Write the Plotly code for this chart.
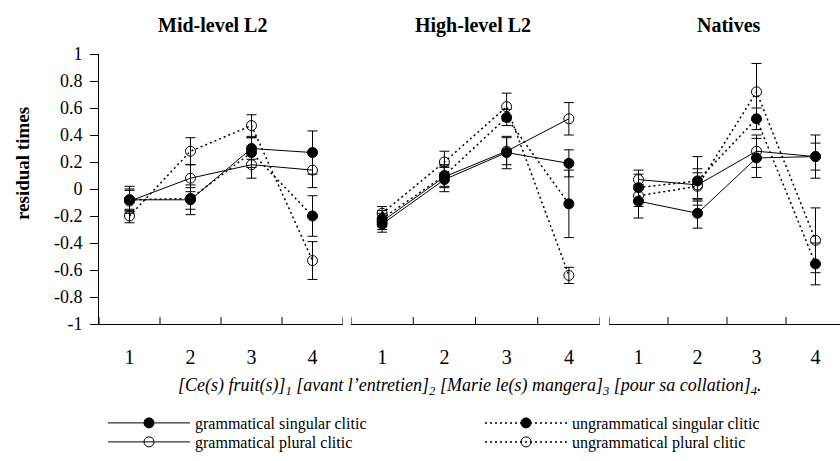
import plotly.graph_objects as go

# ---------------- data ----------------
POSITIONS = [1, 2, 3, 4]
POSITION_LABELS = ["1", "2", "3", "4"]
PANELS = ["Mid-level L2", "High-level L2", "Natives"]
SERIES = ["grammatical singular clitic", "ungrammatical singular clitic",
          "grammatical plural clitic", "ungrammatical plural clitic"]

Y_TICKS = [1, 0.8, 0.6, 0.4, 0.2, 0, -0.2, -0.4, -0.6, -0.8, -1]
Y_LABELS = ["1", "0.8", "0.6", "0.4", "0.2", "0", "-0.2", "-0.4", "-0.6", "-0.8", "-1"]

# Mid-level L2
mid_gram_sg = [-0.08, -0.08, 0.30, 0.27]
mid_gram_sg_err = [0.10, 0.11, 0.08, 0.16]
mid_ungram_sg = [-0.08, -0.07, 0.27, -0.20]
mid_ungram_sg_err = [0.08, 0.08, 0.11, 0.15]
mid_gram_pl = [-0.09, 0.08, 0.18, 0.14]
mid_gram_pl_err = [0.08, 0.10, 0.10, 0.13]
mid_ungram_pl = [-0.20, 0.28, 0.47, -0.53]
mid_ungram_pl_err = [0.05, 0.10, 0.08, 0.14]

# High-level L2
high_gram_sg = [-0.26, 0.07, 0.27, 0.19]
high_gram_sg_err = [0.06, 0.09, 0.12, 0.10]
high_ungram_sg = [-0.22, 0.10, 0.53, -0.11]
high_ungram_sg_err = [0.06, 0.08, 0.06, 0.25]
high_gram_pl = [-0.24, 0.09, 0.28, 0.52]
high_gram_pl_err = [0.06, 0.08, 0.10, 0.12]
high_ungram_pl = [-0.18, 0.20, 0.61, -0.64]
high_ungram_pl_err = [0.05, 0.08, 0.10, 0.06]

# Natives
nat_gram_sg = [-0.09, -0.18, 0.23, 0.24]
nat_gram_sg_err = [0.125, 0.11, 0.145, 0.16]
nat_ungram_sg = [0.01, 0.06, 0.52, -0.555]
nat_ungram_sg_err = [0.10, 0.18, 0.08, 0.155]
nat_gram_pl = [0.07, 0.03, 0.28, 0.24]
nat_gram_pl_err = [0.07, 0.12, 0.12, 0.10]
nat_ungram_pl = [-0.05, 0.02, 0.72, -0.38]
nat_ungram_pl_err = [0.08, 0.10, 0.21, 0.24]

PANEL_DATA = [
    [(mid_gram_sg, mid_gram_sg_err), (mid_ungram_sg, mid_ungram_sg_err),
     (mid_gram_pl, mid_gram_pl_err), (mid_ungram_pl, mid_ungram_pl_err)],
    [(high_gram_sg, high_gram_sg_err), (high_ungram_sg, high_ungram_sg_err),
     (high_gram_pl, high_gram_pl_err), (high_ungram_pl, high_ungram_pl_err)],
    [(nat_gram_sg, nat_gram_sg_err), (nat_ungram_sg, nat_ungram_sg_err),
     (nat_gram_pl, nat_gram_pl_err), (nat_ungram_pl, nat_ungram_pl_err)],
]

SUBTITLE = ("<i>[Ce(s) fruit(s)]<sub>1</sub> [avant l’entretien]<sub>2</sub> "
            "[Marie le(s) mangera]<sub>3</sub> [pour sa collation]<sub>4</sub>.</i>")

# ---------------- style ----------------
W, H = 840, 461
FONT = "Times New Roman"
SERIES_STYLE = [
    dict(symbol="circle", dash="solid", lw=1.0),
    dict(symbol="circle", dash="2px,3px", lw=1.5),
    dict(symbol="circle-open", dash="solid", lw=1.0),
    dict(symbol="circle-open", dash="2px,3px", lw=1.5),
]
LEGEND_IDS = ["legend", "legend2", "legend3", "legend4"]
LEGEND_POS = [(103, 423), (480, 423), (103, 442), (480, 442)]

def px_x(p):
    return p / W

def px_y(p):
    return 1 - p / H

x_domains = [(99, 343), (351, 600), (609, 840)]
x_ranges = [[0.5, 4.5], [0.5, 4.5], [0.5, 0.5 + (840 - 609) / 59.0]]
y_domain = [px_y(324), px_y(54)]

fig = go.Figure()

for pi, panel in enumerate(PANEL_DATA):
    xa = "x" if pi == 0 else f"x{pi + 1}"
    for si, (vals, errs) in enumerate(panel):
        st = SERIES_STYLE[si]
        fig.add_trace(go.Scatter(
            x=POSITIONS, y=vals, xaxis=xa, yaxis="y",
            mode="lines+markers", name=SERIES[si],
            legend=LEGEND_IDS[si], showlegend=(pi == 0),
            line=dict(color="black", width=st["lw"], dash=st["dash"]),
            marker=dict(symbol=st["symbol"], size=10, color="black",
                        line=dict(color="black", width=1)),
            error_y=dict(type="data", array=errs, visible=True,
                         color="black", thickness=1, width=5),
        ))

layout_axes = {}
for pi in range(3):
    key = "xaxis" if pi == 0 else f"xaxis{pi + 1}"
    layout_axes[key] = dict(
        domain=[px_x(x_domains[pi][0]), px_x(x_domains[pi][1])],
        range=x_ranges[pi], anchor="y", automargin=False,
        tickmode="array", tickvals=POSITIONS, ticktext=POSITION_LABELS,
        ticks="", showline=True, linecolor="black", linewidth=1,
        showgrid=False, zeroline=False,
        tickfont=dict(family=FONT, size=20, color="black"),
        ticklabelstandoff=15,
    )

fig.update_layout(
    **layout_axes,
    yaxis=dict(
        domain=y_domain, range=[-1, 1], anchor="x", automargin=False,
        tickmode="array", tickvals=Y_TICKS, ticktext=Y_LABELS,
        ticks="outside", ticklen=8, tickcolor="black",
        showline=True, linecolor="black", linewidth=1,
        showgrid=False, zeroline=False,
        tickfont=dict(family=FONT, size=18, color="black"),
        ticklabelstandoff=4,
    ),
)

# crossing tick marks at category boundaries
shapes = []
for pi in range(3):
    xa = "x" if pi == 0 else f"x{pi + 1}"
    lo, hi = x_ranges[pi]
    for b in [p - 0.5 for p in POSITIONS] + [POSITIONS[-1] + 0.5]:
        if lo - 1e-9 <= b <= hi + 1e-9:
            shapes.append(dict(type="line", xref=xa, yref="y", x0=b, x1=b,
                               ysizemode="pixel", yanchor=-1, y0=-7, y1=7,
                               line=dict(color="black", width=1)))

annotations = []
title_x = [212, 473, 729]
for pi, name in enumerate(PANELS):
    annotations.append(dict(text=f"<b>{name}</b>", x=px_x(title_x[pi]), y=px_y(25),
                            xref="paper", yref="paper", showarrow=False,
                            xanchor="center", yanchor="middle",
                            font=dict(family=FONT, size=20, color="black")))
annotations.append(dict(text="<b>residual times</b>", x=px_x(22), y=px_y(164),
                        xref="paper", yref="paper", showarrow=False, textangle=-90,
                        xanchor="center", yanchor="middle",
                        font=dict(family=FONT, size=19, color="black")))
annotations.append(dict(text=SUBTITLE, x=px_x(470), y=px_y(386),
                        xref="paper", yref="paper", showarrow=False,
                        xanchor="center", yanchor="middle",
                        font=dict(family=FONT, size=18, color="black")))

legend_common = dict(orientation="v", xanchor="left", yanchor="middle",
                     bgcolor="rgba(0,0,0,0)", borderwidth=0,
                     font=dict(family=FONT, size=16, color="black"),
                     itemwidth=82)

legend_layout = {}
for li, (lx, ly) in zip(LEGEND_IDS, LEGEND_POS):
    legend_layout[li] = dict(x=px_x(lx), y=px_y(ly), **legend_common)

fig.update_layout(
    width=W, height=H,
    margin=dict(l=0, r=0, t=0, b=0, autoexpand=False),
    paper_bgcolor="white", plot_bgcolor="white",
    font=dict(family=FONT, color="black"),
    shapes=shapes, annotations=annotations,
    showlegend=True,
    **legend_layout,
)

fig.write_html("out.html",
               config={"displayModeBar": False},
               post_script="document.body.style.margin='0';document.body.style.padding='0';")
